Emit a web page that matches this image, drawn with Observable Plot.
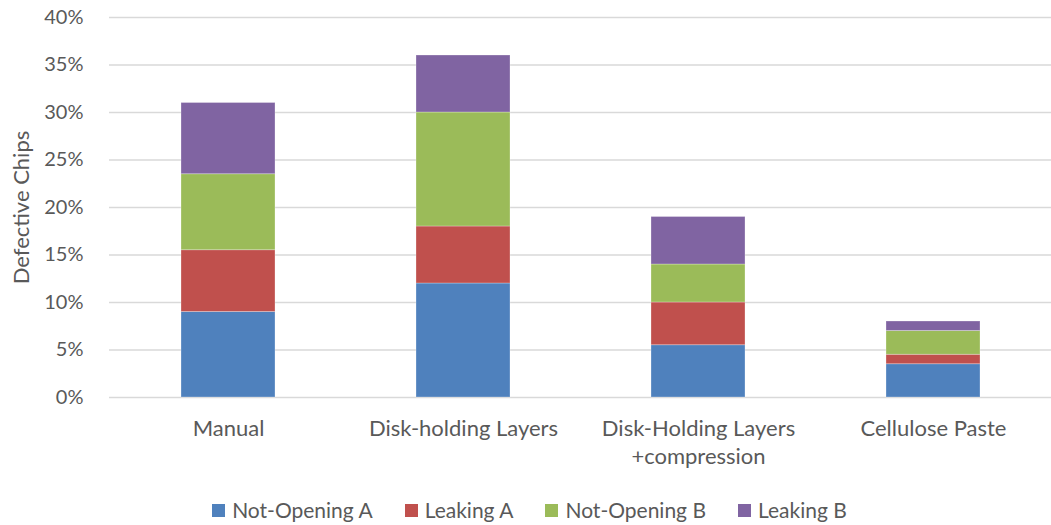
<!DOCTYPE html>
<html>
<head>
<meta charset="utf-8">
<script src="https://cdn.jsdelivr.net/npm/d3@7"></script>
<script src="https://cdn.jsdelivr.net/npm/@observablehq/plot@0.6"></script>
<style>
  body { margin: 0; background: #fff; font-family: Lato, "Open Sans", sans-serif; }
  #chart svg { display: block; }
  .legend { display: flex; justify-content: center; font-size: 21px; color: #595959; margin-top: 19px; padding-left: 8px; line-height: 26px; }
  .legend .item { display: flex; align-items: center; margin: 0 16px; }
  .legend .sw { width: 13px; height: 13px; margin-right: 7px; }
</style>
</head>
<body>
<div id="chart"></div>
<script>
// Defect rate (%) per chip assembly method, split by defect type
const categories = ["Manual", "Disk-holding Layers", "Disk-Holding Layers +compression", "Cellulose Paste"];
const series = ["Not-Opening A", "Leaking A", "Not-Opening B", "Leaking B"];
const colors = ["#4F81BD", "#C0504D", "#9BBB59", "#8064A2"];
const notOpeningA = [9, 12, 5.5, 3.5];
const leakingA = [6.5, 6, 4.5, 1];
const notOpeningB = [8, 12, 4, 2.5];
const leakingB = [7.5, 6, 5, 1];
const yTicks = [0, 5, 10, 15, 20, 25, 30, 35, 40];

const values = [notOpeningA, leakingA, notOpeningB, leakingB];
const rows = [];
series.forEach((s, i) => {
  categories.forEach((c, j) => rows.push({category: c, type: s, value: values[i][j]}));
});

const labelLines = {"Disk-Holding Layers +compression": "Disk-Holding Layers\n+compression"};

const chart = Plot.plot({
  width: 1051,
  height: 478,
  marginTop: 17,
  marginBottom: 81,
  marginLeft: 109,
  marginRight: 0,
  style: {fontFamily: "Lato, 'Open Sans', sans-serif", fontSize: "20px", color: "#595959", background: "#fff"},
  x: {domain: categories, paddingInner: 0.6, paddingOuter: 0.3, label: null},
  y: {domain: [0, 40], label: null},
  color: {domain: series, range: colors},
  marks: [
    Plot.gridY(yTicks, {stroke: "#D9D9D9", strokeOpacity: 1, strokeWidth: 1.5}),
    Plot.barY(rows, Plot.stackY({x: "category", y: "value", fill: "type", order: series, stroke: "#ffffff", strokeOpacity: 0.35, strokeWidth: 0.8})),
    Plot.axisY({ticks: yTicks, tickSize: 0, tickPadding: 26, tickFormat: d => d + "%", fontSize: 20, label: null}),
    Plot.axisX({tickSize: 0, tickPadding: 18, fontSize: 22, lineHeight: 1.28, tickFormat: d => labelLines[d] || d, label: null}),
    Plot.text(["Defective Chips"], {frameAnchor: "left", dx: -88, rotate: -90, textAnchor: "middle", fontSize: 22, fill: "#595959"})
  ]
});
document.getElementById("chart").appendChild(chart);

const legend = document.createElement("div");
legend.className = "legend";
series.forEach((s, i) => {
  const item = document.createElement("div");
  item.className = "item";
  const sw = document.createElement("span");
  sw.className = "sw";
  sw.style.background = colors[i];
  const lab = document.createElement("span");
  lab.textContent = s;
  item.append(sw, lab);
  legend.append(item);
});
document.body.appendChild(legend);
</script>
</body>
</html>
